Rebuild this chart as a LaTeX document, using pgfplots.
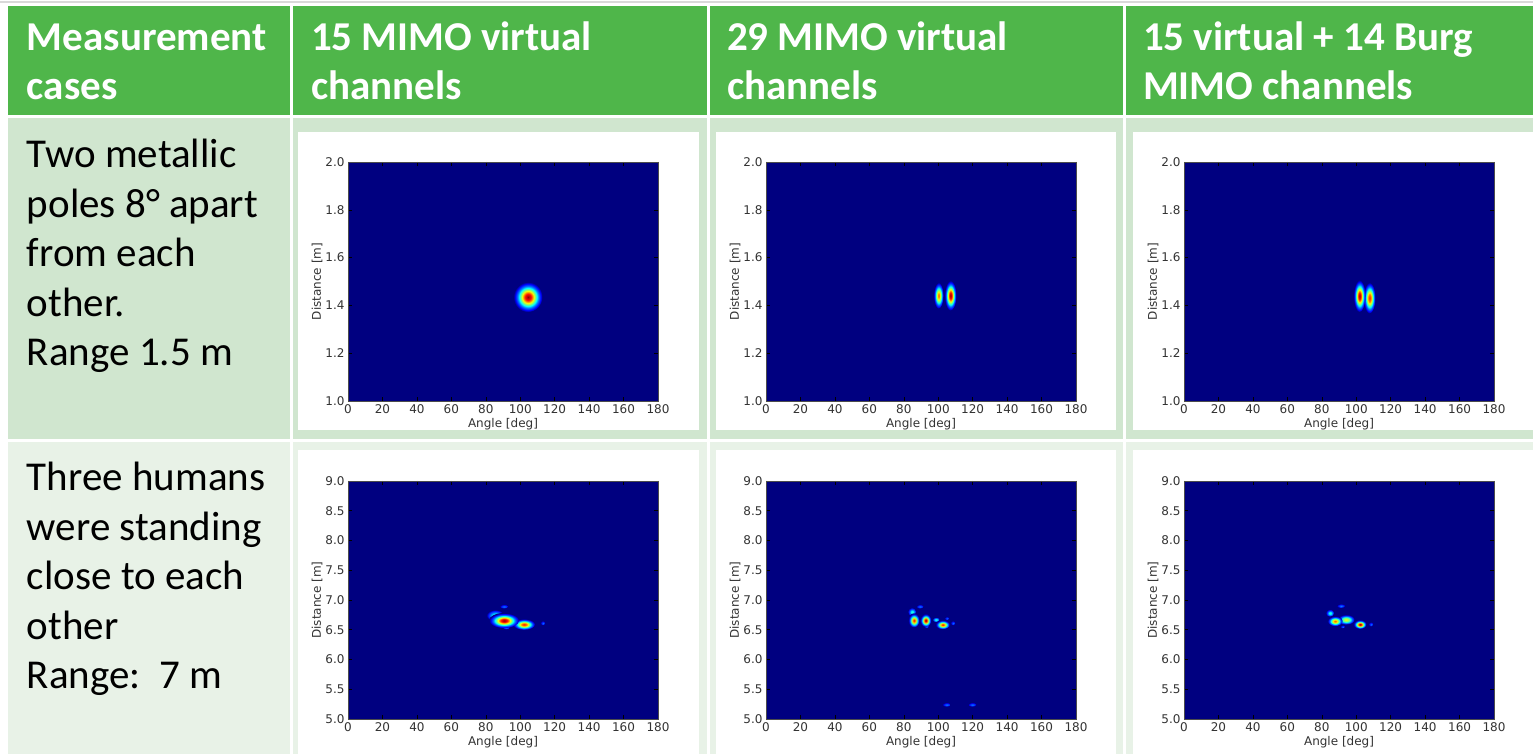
\documentclass[border=0pt]{standalone}
\usepackage{pgfplots}
\pgfplotsset{compat=1.18}
\usepackage{fontspec}
\setmainfont{Carlito}
\newfontfamily\dejavu{DejaVu Sans}

\definecolor{hdr}{RGB}{79,182,74}
\definecolor{rowa}{RGB}{208,230,207}
\definecolor{rowb}{RGB}{232,242,231}
\definecolor{jn}{rgb}{0,0,0.5}
\definecolor{jb}{rgb}{0,0,1}
\definecolor{jlb}{rgb}{0,0.5,1}
\definecolor{jc}{rgb}{0,1,1}
\definecolor{jgc}{rgb}{0.16,1,0.84}
\definecolor{jg}{rgb}{0.48,1,0.48}
\definecolor{jy}{rgb}{0.97,1,0}
\definecolor{jo}{rgb}{1,0.52,0}
\definecolor{jo8}{rgb}{1,0.41,0}
\definecolor{jr}{rgb}{1,0.07,0}
\definecolor{jdr}{rgb}{0.55,0,0}

\pgfdeclareradialshading{jet100}{\pgfpointorigin}{color(0bp)=(jdr); color(5.2bp)=(jr); color(7.7bp)=(jo); color(9.9bp)=(jy); color(12.6bp)=(jg); color(15.3bp)=(jc); color(17.8bp)=(jlb); color(22bp)=(jb); color(25bp)=(jn); color(50bp)=(jn)}
\pgfdeclareradialshading{jet90}{\pgfpointorigin}{color(0bp)=(jr); color(6.1bp)=(jo); color(8.8bp)=(jy); color(11.9bp)=(jg); color(14.8bp)=(jc); color(17.5bp)=(jlb); color(22bp)=(jb); color(25bp)=(jn); color(50bp)=(jn)}
\pgfdeclareradialshading{jet80}{\pgfpointorigin}{color(0bp)=(jo8); color(3.1bp)=(jo); color(7.3bp)=(jy); color(11bp)=(jg); color(14.3bp)=(jc); color(17.2bp)=(jlb); color(22bp)=(jb); color(25bp)=(jn); color(50bp)=(jn)}
\pgfdeclareradialshading{jet65}{\pgfpointorigin}{color(0bp)=(jy); color(8.7bp)=(jg); color(13bp)=(jc); color(16.5bp)=(jlb); color(22bp)=(jb); color(25bp)=(jn); color(50bp)=(jn)}
\pgfdeclareradialshading{jet40}{\pgfpointorigin}{color(0bp)=(jgc); color(6.5bp)=(jc); color(13.7bp)=(jlb); color(22bp)=(jb); color(25bp)=(jn); color(50bp)=(jn)}
\pgfdeclareradialshading{jet25}{\pgfpointorigin}{color(0bp)=(jlb); color(20bp)=(jb); color(25bp)=(jn); color(50bp)=(jn)}

\def\bw{1}\def\bh{1}
\pgfdeclareplotmark{jet100}{\pgfpathellipse{\pgfpointorigin}{\pgfqpoint{\bw pt}{0pt}}{\pgfqpoint{0pt}{\bh pt}}\pgfshadepath{jet100}{0}\pgfusepath{discard}}
\pgfdeclareplotmark{jet90}{\pgfpathellipse{\pgfpointorigin}{\pgfqpoint{\bw pt}{0pt}}{\pgfqpoint{0pt}{\bh pt}}\pgfshadepath{jet90}{0}\pgfusepath{discard}}
\pgfdeclareplotmark{jet80}{\pgfpathellipse{\pgfpointorigin}{\pgfqpoint{\bw pt}{0pt}}{\pgfqpoint{0pt}{\bh pt}}\pgfshadepath{jet80}{0}\pgfusepath{discard}}
\pgfdeclareplotmark{jet65}{\pgfpathellipse{\pgfpointorigin}{\pgfqpoint{\bw pt}{0pt}}{\pgfqpoint{0pt}{\bh pt}}\pgfshadepath{jet65}{0}\pgfusepath{discard}}
\pgfdeclareplotmark{jet40}{\pgfpathellipse{\pgfpointorigin}{\pgfqpoint{\bw pt}{0pt}}{\pgfqpoint{0pt}{\bh pt}}\pgfshadepath{jet40}{0}\pgfusepath{discard}}
\pgfdeclareplotmark{jet25}{\pgfpathellipse{\pgfpointorigin}{\pgfqpoint{\bw pt}{0pt}}{\pgfqpoint{0pt}{\bh pt}}\pgfshadepath{jet25}{0}\pgfusepath{discard}}

\newcommand\lblfont{\fontsize{12}{14}\selectfont\dejavu}
\pgfplotsset{
  heat/.style={scale only axis, width=310pt, anchor=south west,
    xmin=0, xmax=180, xtick={0,20,...,180},
    axis background/.style={fill=jn},
    tick align=inside, major tick length=4pt,
    tick style={black, line width=0.5pt},
    axis line style={black!70, line width=0.6pt},
    /pgf/number format/assume math mode=true,
    tick label style={font=\lblfont, text=black!80},
    yticklabel style={/pgf/number format/.cd, fixed, fixed zerofill, precision=1},
    xlabel={Angle [deg]}, ylabel={Distance [m]},
    every axis x label/.style={at={(axis description cs:0.5,-0.097)}, anchor=center, font=\lblfont, text=black!80},
    every axis y label/.style={at={(axis description cs:-0.1,0.5)}, rotate=90, anchor=center, font=\lblfont, text=black!80},
  },
  rowone/.style={heat, height=239pt, ymin=1, ymax=2, ytick={1,1.2,...,2.01}},
  rowtwo/.style={heat, height=238pt, ymin=5, ymax=9, ytick={5,5.5,...,9.01}},
  blob/.style={scatter, only marks, mark=#1,
    visualization depends on={value \thisrow{rx}\as\bw},
    visualization depends on={value \thisrow{ry}\as\bh}},
}

\begin{document}
\begin{tikzpicture}[x=1pt,y=1pt]
\useasboundingbox (0,0) rectangle (1533,754);
\fill[white] (0,0) rectangle (1533,754);
\fill[black!15] (0,751) rectangle (1533,752.5);
% header
\foreach \a/\b in {8/290,293/707,710/1123,1126/1533}{
  \fill[hdr] (\a,639) rectangle (\b,748);
  \fill[rowa] (\a,315) rectangle (\b,636);
  \fill[rowb] (\a,0) rectangle (\b,312);
}
\foreach \a/\b in {298/699,716/1116,1133/1533}{
  \fill[white] (\a,324) rectangle (\b,622);
  \fill[white] (\a,0) rectangle (\b,304);
}
\begin{scope}[every node/.style={anchor=base west, inner sep=0pt, outer sep=0pt}]
\begin{scope}[every node/.append style={text=white, font=\fontsize{41}{49}\selectfont\bfseries}]
\node at (27,703) {Measurement};
\node at (27,654) {cases};
\node at (311,703) {15 MIMO virtual};
\node at (311,654) {channels};
\node at (727,703) {29 MIMO virtual};
\node at (727,654) {channels};
\node at (1143,703) {15 virtual + 14 Burg};
\node at (1143,654) {MIMO channels};
\end{scope}
\begin{scope}[every node/.append style={text=black, font=\fontsize{41}{49}\selectfont}]
\node at (27,586) {Two metallic};
\node at (27,536.5) {poles 8° apart};
\node at (27,487) {from each};
\node at (27,437.5) {other.};
\node at (27,388) {Range 1.5 m};
\node at (27,263) {Three humans};
\node at (27,213.5) {were standing};
\node at (27,164) {close to each};
\node at (27,114.5) {other};
\node at (27,65) {Range:\ \ 7 m};
\end{scope}
\end{scope}

% row 1
\begin{axis}[rowone, at={(348pt,353pt)}]
\addplot[blob=jet100] table[x=a, y=d, row sep=\\]{a d rx ry\\ 104.5 1.435 14.5 15\\};
\end{axis}
\begin{axis}[rowone, at={(766pt,353pt)}]
\addplot[blob=jet80] table[x=a, y=d, row sep=\\]{a d rx ry\\ 100.2 1.441 5 13\\};
\addplot[blob=jet100] table[x=a, y=d, row sep=\\]{a d rx ry\\ 107.1 1.441 6 15\\};
\end{axis}
\begin{axis}[rowone, at={(1184pt,353pt)}]
\addplot[blob=jet90] table[x=a, y=d, row sep=\\]{a d rx ry\\ 107.7 1.431 6 15.5\\};
\addplot[blob=jet100] table[x=a, y=d, row sep=\\]{a d rx ry\\ 101.9 1.439 6 16\\};
\end{axis}

% row 2
\begin{axis}[rowtwo, at={(348pt,35pt)}]
\addplot[blob=jet25] table[x=a, y=d, row sep=\\]{a d rx ry\\ 90.6 6.89 4 2\\ 91.8 6.54 3.5 2\\ 113.2 6.61 2 2\\};
\addplot[blob=jet40] table[x=a, y=d, row sep=\\]{a d rx ry\\ 85.5 6.74 8.5 5.5\\};
\addplot[blob=jet90] table[x=a, y=d, row sep=\\]{a d rx ry\\ 102.2 6.59 11 5.5\\};
\addplot[blob=jet100] table[x=a, y=d, row sep=\\]{a d rx ry\\ 90.6 6.655 15 7.5\\};
\end{axis}
\begin{axis}[rowtwo, at={(766pt,35pt)}]
\addplot[blob=jet25] table[x=a, y=d, row sep=\\]{a d rx ry\\ 89.4 6.89 3.5 2\\ 104.9 5.24 4 2\\ 119.8 5.24 4 2\\ 93.3 6.56 2 2\\ 105.1 6.69 2 1.5\\ 108.6 6.61 2 2\\};
\addplot[blob=jet40] table[x=a, y=d, row sep=\\]{a d rx ry\\ 84.8 6.80 4 4\\ 98.7 6.67 3.5 2.5\\};
\addplot[blob=jet90] table[x=a, y=d, row sep=\\]{a d rx ry\\ 85.9 6.657 5.5 7\\ 102.6 6.585 7 4.5\\};
\addplot[blob=jet100] table[x=a, y=d, row sep=\\]{a d rx ry\\ 92.7 6.657 5.5 6.5\\};
\end{axis}
\begin{axis}[rowtwo, at={(1184pt,35pt)}]
\addplot[blob=jet25] table[x=a, y=d, row sep=\\]{a d rx ry\\ 91.2 6.90 4 2\\ 92.2 6.55 2 1.5\\ 108.6 6.59 2 2\\};
\addplot[blob=jet40] table[x=a, y=d, row sep=\\]{a d rx ry\\ 84.8 6.78 4 3.5\\};
\addplot[blob=jet65] table[x=a, y=d, row sep=\\]{a d rx ry\\ 94.1 6.67 8.5 5\\};
\addplot[blob=jet80] table[x=a, y=d, row sep=\\]{a d rx ry\\ 87.7 6.645 7.5 5\\};
\addplot[blob=jet100] table[x=a, y=d, row sep=\\]{a d rx ry\\ 102.2 6.59 6.5 4.5\\};
\end{axis}
\end{tikzpicture}
\end{document}
